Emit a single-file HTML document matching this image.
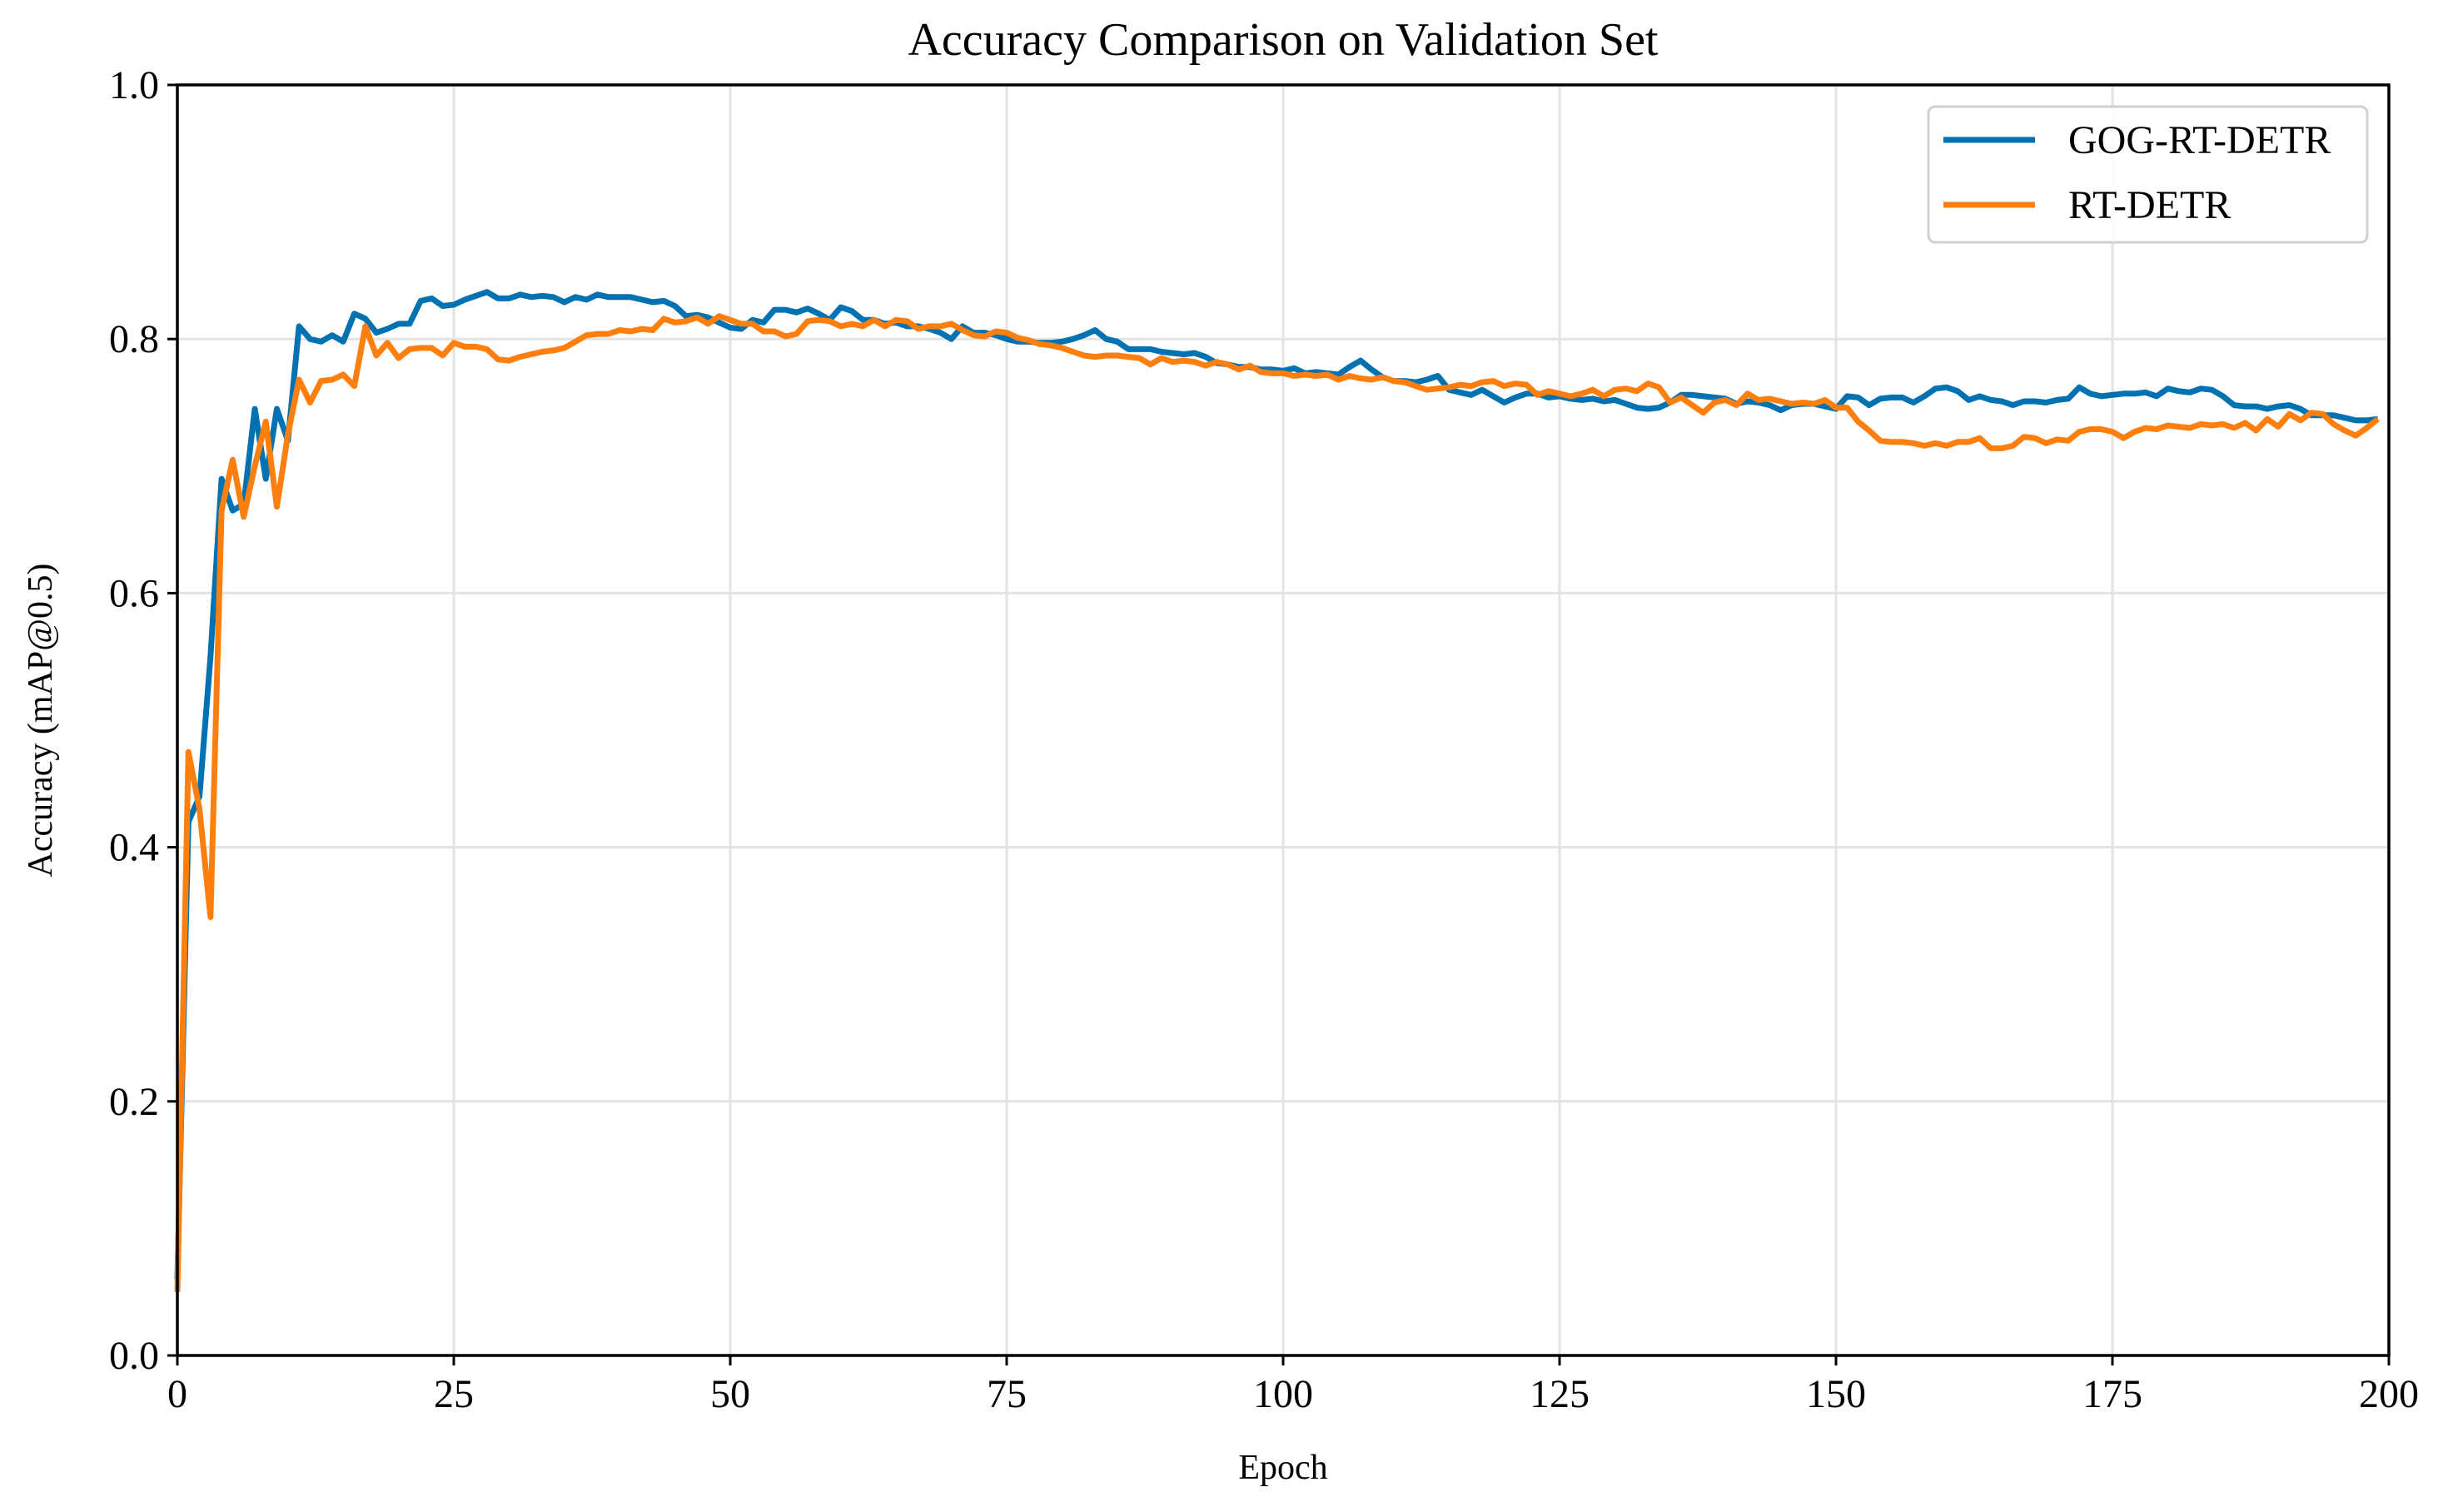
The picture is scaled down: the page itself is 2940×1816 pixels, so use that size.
<!DOCTYPE html>
<html><head><meta charset="utf-8"><style>
html,body{margin:0;padding:0;background:#fff;}
svg{display:block;font-family:"Liberation Serif",serif;}
</style></head><body>
<svg id="chart" width="2940" height="1816" viewBox="0 0 2940 1816" xmlns="http://www.w3.org/2000/svg">
<rect width="2940" height="1816" fill="#fff"/>
<text x="1541" y="66" font-size="56" text-anchor="middle">Accuracy Comparison on Validation Set</text>
<g id="grid"></g>
<g id="series"></g>
<rect x="213" y="102" width="2656" height="1526" fill="none" stroke="#000" stroke-width="3.5"/>
<g id="ticks"></g>
<text x="1541" y="1776" font-size="42" text-anchor="middle">Epoch</text>
<text transform="translate(62,865) rotate(-90)" font-size="42" text-anchor="middle">Accuracy (mAP@0.5)</text>
<g>
<rect x="2316" y="128" width="527" height="163" rx="8" fill="#fff" fill-opacity="0.9" stroke="#d0d0d0" stroke-width="3"/>
<line x1="2334" y1="168" x2="2444" y2="168" stroke="#0072b2" stroke-width="7"/>
<text x="2484" y="184" font-size="48">GOG-RT-DETR</text>
<line x1="2334" y1="246" x2="2444" y2="246" stroke="#ff7f0e" stroke-width="7"/>
<text x="2484" y="262" font-size="48">RT-DETR</text>
</g>
</svg>
<script>
const xTicks = [0,25,50,75,100,125,150,175,200];
const yTicks = [0.0,0.2,0.4,0.6,0.8,1.0];
const gogValues = [0.06,0.42,0.44,0.55,0.69,0.665,0.67,0.745,0.69,0.745,0.72,0.81,0.80,0.798,0.803,0.798,0.82,0.816,0.805,0.808,0.812,0.812,0.83,0.832,0.826,0.827,0.831,0.834,0.837,0.832,0.832,0.835,0.833,0.834,0.833,0.829,0.833,0.831,0.835,0.833,0.833,0.833,0.831,0.829,0.830,0.826,0.818,0.819,0.817,0.813,0.809,0.808,0.815,0.813,0.823,0.823,0.821,0.824,0.820,0.815,0.825,0.822,0.815,0.815,0.812,0.813,0.81,0.81,0.808,0.805,0.80,0.81,0.805,0.805,0.803,0.80,0.798,0.798,0.797,0.797,0.798,0.80,0.803,0.807,0.80,0.798,0.792,0.792,0.792,0.79,0.789,0.788,0.789,0.786,0.781,0.78,0.778,0.778,0.776,0.776,0.775,0.777,0.773,0.774,0.773,0.772,0.778,0.783,0.776,0.77,0.767,0.767,0.766,0.768,0.771,0.76,0.758,0.756,0.76,0.755,0.75,0.754,0.757,0.757,0.754,0.755,0.753,0.752,0.753,0.751,0.752,0.749,0.746,0.745,0.746,0.75,0.756,0.756,0.755,0.754,0.753,0.749,0.751,0.75,0.748,0.744,0.748,0.749,0.749,0.747,0.745,0.755,0.754,0.748,0.753,0.754,0.754,0.75,0.755,0.761,0.762,0.759,0.752,0.755,0.752,0.751,0.748,0.751,0.751,0.75,0.752,0.753,0.762,0.757,0.755,0.756,0.757,0.757,0.758,0.755,0.761,0.759,0.758,0.761,0.76,0.755,0.748,0.747,0.747,0.745,0.747,0.748,0.745,0.74,0.74,0.74,0.738,0.736,0.736,0.737];
const rtdetrValues = [0.05,0.475,0.43,0.345,0.665,0.705,0.66,0.70,0.735,0.668,0.725,0.768,0.75,0.767,0.768,0.772,0.763,0.81,0.787,0.797,0.785,0.792,0.793,0.793,0.787,0.797,0.794,0.794,0.792,0.784,0.783,0.786,0.788,0.79,0.791,0.793,0.798,0.803,0.804,0.804,0.807,0.806,0.808,0.807,0.816,0.813,0.814,0.817,0.812,0.818,0.815,0.812,0.812,0.806,0.806,0.802,0.804,0.814,0.815,0.814,0.81,0.812,0.81,0.815,0.81,0.815,0.814,0.808,0.81,0.81,0.812,0.807,0.803,0.802,0.806,0.805,0.801,0.799,0.796,0.795,0.793,0.79,0.787,0.786,0.787,0.787,0.786,0.785,0.78,0.785,0.782,0.783,0.782,0.779,0.782,0.78,0.776,0.779,0.774,0.773,0.773,0.771,0.772,0.771,0.772,0.768,0.771,0.769,0.768,0.77,0.767,0.766,0.763,0.76,0.761,0.762,0.764,0.763,0.766,0.767,0.763,0.765,0.764,0.756,0.759,0.757,0.755,0.757,0.76,0.755,0.76,0.761,0.759,0.765,0.762,0.75,0.754,0.748,0.742,0.75,0.752,0.748,0.757,0.752,0.753,0.751,0.749,0.75,0.749,0.752,0.746,0.746,0.735,0.728,0.72,0.719,0.719,0.718,0.716,0.718,0.716,0.719,0.719,0.722,0.714,0.714,0.716,0.723,0.722,0.718,0.721,0.72,0.727,0.729,0.729,0.727,0.722,0.727,0.73,0.729,0.732,0.731,0.73,0.733,0.732,0.733,0.73,0.734,0.728,0.737,0.731,0.741,0.736,0.742,0.741,0.733,0.728,0.724,0.73,0.737];

const NS="http://www.w3.org/2000/svg";
const L=213,R=2869,T=102,B=1628;
const xS=e=>L+(e-0)/(200-0)*(R-L);
const yS=v=>B-(v-0)/(1-0)*(B-T);
const grid=document.getElementById('grid'), ticks=document.getElementById('ticks'), series=document.getElementById('series');
function mk(tag,attrs,parent){const el=document.createElementNS(NS,tag);for(const k in attrs)el.setAttribute(k,attrs[k]);parent.appendChild(el);return el;}
xTicks.forEach(t=>{
  const gl=mk('line',{x1:xS(t),x2:xS(t),y1:T,y2:B,stroke:'#e3e3e3','stroke-width':3},grid);
  
  
  const tk=mk('line',{x1:xS(t),x2:xS(t),y1:B,y2:B+12,stroke:'#000','stroke-width':3},ticks);
  
  
  const tx=mk('text',{x:xS(t),y:B+62,'font-size':48,'text-anchor':'middle'},ticks);
  tx.textContent=String(t);
  
  
});
yTicks.forEach(t=>{
  const gl=mk('line',{x1:L,x2:R,y1:yS(t),y2:yS(t),stroke:'#e3e3e3','stroke-width':3},grid);
  
  
  const tk=mk('line',{x1:L-12,x2:L,y1:yS(t),y2:yS(t),stroke:'#000','stroke-width':3},ticks);
  
  
  const tx=mk('text',{x:L-22,y:yS(t)+16,'font-size':48,'text-anchor':'end'},ticks);
  tx.textContent=t.toFixed(1);
  
  
});
function line(vals,color,name){
  const d=vals.map((v,i)=>(i?'L':'M')+xS(i).toFixed(1)+','+yS(v).toFixed(1)).join(' ');
  const p=mk('path',{d:d,fill:'none',stroke:color,'stroke-width':7,'stroke-linejoin':'round'},series);
  
  
}
line(gogValues,'#0072b2','gog-rt-detr-line');
line(rtdetrValues,'#ff7f0e','rt-detr-line');
</script>
</body></html>
